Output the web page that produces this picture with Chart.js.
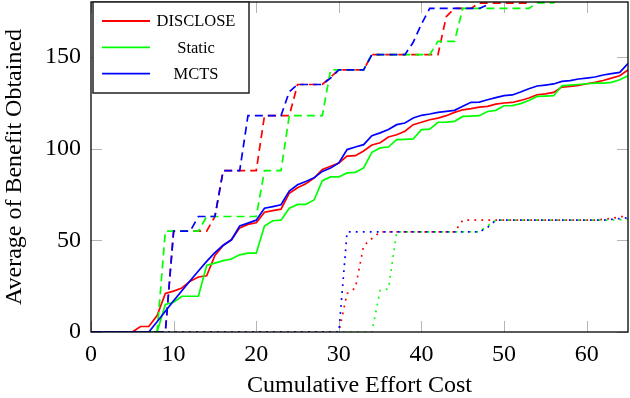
<!DOCTYPE html>
<html>
<head>
<meta charset="utf-8">
<title>Average of Benefit Obtained</title>
<script src="https://cdn.jsdelivr.net/npm/chart.js@4.4.1/dist/chart.umd.min.js"></script>
<style>
	body { margin: 0; background: #fff; }
	#wrap { width: 630px; height: 398px; }
</style>
</head>
<body>
<div id="wrap"><canvas id="myChart" width="630" height="398"></canvas></div>
<script>
// effort steps used by the solid (mean) curves
var effort = [0,1,2,3,4,5,6,7,8,9, 10,11,12,13,14,15,16,17,18,19, 20,21,22,23,24,25,26,27,28,29,
	30,31,32,33,34,35,36,37,38,39, 40,41,42,43,44,45,46,47,48,49, 50,51,52,53,54,55,56,57,58,59, 60,61,62,63,64,65];

var seriesNames = ['DISCLOSE', 'Static', 'MCTS'];
var seriesColors = ['#ff0000', '#00ff00', '#0000ff'];

// solid lines
var discloseMean = [0,0,0,0,0,0,3,3,9,21, 22.3,24,27.7,30,30.7,41.8,47.2,50.3,56.8,58.7,
	59.6,65.3,66.2,67,75.7,78.7,80.8,84,88.6,90.4, 92.2,95.9,96.2,98.7,102,103.2,106.4,107.6,109.5,113.1,
	114.4,115.8,116.7,118,119.8,121.2,121.8,122.7,123.1,124.3, 124.9,125.2,126.3,127.6,129.4,129.9,130.7,133.6,134,134.5,
	135.4,136.2,137.2,138.5,139.8,143];
var staticMean = [0,0,0,0,0,0,0,0,0,15, 16.2,19.5,19.5,19.5,36.3,37.6,38.9,39.8,42.1,43,
	43,57.8,60.7,61,67.5,69.6,69.6,72,82.5,84.6, 84.6,86.8,87.1,89.5,98,100.4,100.9,104.9,105.1,105.3,
	110.4,110.7,114.4,114.5,114.9,117.6,117.8,118,120.3,120.9, 123.4,123.5,124.6,126.3,128.5,128.7,128.9,134.3,134.7,135,
	135.4,135.8,135.8,136.2,137.6,139.8];
var mctsMean = [0,0,0,0,0,0,0,0,5.6,11.3, 17,22.5,28,33.3,38.5,43.3,47.3,50.3,57.8,59.4,
	61,67.5,68.4,69.4,76.9,80.3,82.1,84.1,87.6,89.5, 92.2,99.5,100.9,102.2,107.1,108.6,110.4,113.1,114,116.7,
	118.2,118.9,119.8,120.3,120.9,123.1,125.3,125.4,126.7,127.8, 128.9,129.3,130.9,132.7,134.2,134.7,135.3,136.7,137.1,138,
	138.5,139.1,140.2,140.9,141.6,146.4];

// dashed lines (corners of the steps)
var discloseUpperX = [0, 9, 10, 14, 15, 16, 20, 21, 24, 25, 28, 29, 30, 33, 34, 42, 43, 44, 46, 47, 53, 54, 65];
var discloseUpperY = [0, 0, 55, 55, 63, 88, 88, 118, 118, 135, 135, 139, 143, 143, 151.3, 151.3, 172, 176.5, 176.5, 179.4, 179.4, 186, 186];
var staticUpperX = [0, 8, 9, 13, 14, 20, 21, 23, 24, 28, 29, 33, 34, 41, 42, 44, 45, 53, 54, 56, 57, 65];
var staticUpperY = [0, 0, 55, 55, 63, 63, 88, 88, 118, 118, 143, 143, 151.3, 151.3, 158.5, 158.5, 176.5, 176.5, 179.5, 179.5, 186, 186];
var mctsUpperX = [0, 9, 10, 12, 13, 15, 16, 18, 19, 23, 24, 25, 28, 29, 30, 33, 34, 38, 39, 40, 41, 47, 48, 49, 65];
var mctsUpperY = [0, 0, 55, 55, 63, 63, 88, 88, 118, 118, 131, 135, 135, 138.5, 143, 143, 151.3, 151.3, 158, 168, 176.5, 176.5, 178.5, 186, 186];

// dotted lines
var discloseLowerX = [0, 30, 31, 32, 33, 34, 35, 44, 45, 61, 63, 65];
var discloseLowerY = [0, 0, 21, 24, 47, 51, 54.6, 54.6, 61, 61, 62, 63.5];
var staticLowerX = [0, 34, 35, 36, 37, 47, 49, 63, 65];
var staticLowerY = [0, 0, 22.7, 23.5, 54.6, 54.6, 61, 61, 61.5];
var mctsLowerX = [0, 30, 31, 47, 48, 49, 62, 65];
var mctsLowerY = [0, 0, 54.6, 54.6, 57, 61, 61, 62.3];

var xTicks = [0, 10, 20, 30, 40, 50, 60];
var yTicks = [0, 50, 100, 150];

var serif = "'Liberation Serif', 'Times New Roman', serif";

function points(xs, ys)
{
	var out = [];
	for (var i = 0; i < xs.length; i++)
	{
		out.push({x: xs[i], y: ys[i]});
	}
	return out;
}

function makeLine(xs, ys, k, style)
{
	var dash = [];
	if (style == 'dashed') dash = [8, 5];
	if (style == 'dotted') dash = [1.8, 5.2];
	return {
		label: seriesNames[k] + ' ' + style,
		data: points(xs, ys),
		borderColor: seriesColors[k],
		backgroundColor: seriesColors[k],
		borderDash: dash,
		borderWidth: 1.7,
		fill: false,
		order: 2 - k
	};
}

var decor = {
	id: 'decor',
	beforeDatasetsDraw: function (chart)
	{
		var ctx = chart.ctx;
		var a = chart.chartArea;
		var sx = chart.scales.x, sy = chart.scales.y;
		ctx.save();
		ctx.strokeStyle = '#b4b4b4';
		ctx.lineWidth = 1;
		ctx.beginPath();
		xTicks.forEach(function (v)
		{
			var px = Math.round(sx.getPixelForValue(v)) + 0.5;
			ctx.moveTo(px, a.bottom); ctx.lineTo(px, a.bottom - 11);
			ctx.moveTo(px, a.top); ctx.lineTo(px, a.top + 11);
		});
		yTicks.forEach(function (v)
		{
			var py = Math.round(sy.getPixelForValue(v)) + 0.5;
			ctx.moveTo(a.left, py); ctx.lineTo(a.left + 11, py);
			ctx.moveTo(a.right, py); ctx.lineTo(a.right - 11, py);
		});
		ctx.stroke();
		ctx.restore();
	},
	afterDatasetsDraw: function (chart)
	{
		var ctx = chart.ctx;
		var a = chart.chartArea;
		ctx.save();
		ctx.strokeStyle = '#000';
		ctx.lineWidth = 1.3;
		ctx.strokeRect(a.left, a.top, a.right - a.left, a.bottom - a.top);

		// legend box
		var bx = a.left + 2, by = a.top, bw = 156, bh = 91;
		ctx.fillStyle = '#fff';
		ctx.fillRect(bx, by, bw, bh);
		ctx.strokeStyle = '#222';
		ctx.lineWidth = 1.5;
		ctx.strokeRect(bx, by, bw, bh);
		ctx.font = '16.5px ' + serif;
		ctx.textAlign = 'center';
		ctx.textBaseline = 'middle';
		for (var k = 0; k < seriesNames.length; k++)
		{
			var ly = by + 19 + k * 26.3;
			ctx.strokeStyle = seriesColors[k];
			ctx.lineWidth = 1.8;
			ctx.beginPath();
			ctx.moveTo(bx + 9, ly);
			ctx.lineTo(bx + 57, ly);
			ctx.stroke();
			ctx.fillStyle = '#000';
			ctx.fillText(seriesNames[k], bx + 103, ly + 1);
		}
		ctx.restore();
	}
};

var ctx = document.getElementById('myChart');
var myChart = new Chart(ctx, {
	type: 'line',
	data: {
		datasets: [
			makeLine(effort, discloseMean, 0, 'solid'),
			makeLine(effort, staticMean, 1, 'solid'),
			makeLine(effort, mctsMean, 2, 'solid'),
			makeLine(discloseUpperX, discloseUpperY, 0, 'dashed'),
			makeLine(staticUpperX, staticUpperY, 1, 'dashed'),
			makeLine(mctsUpperX, mctsUpperY, 2, 'dashed'),
			makeLine(discloseLowerX, discloseLowerY, 0, 'dotted'),
			makeLine(staticLowerX, staticLowerY, 1, 'dotted'),
			makeLine(mctsLowerX, mctsLowerY, 2, 'dotted')
		]
	},
	options: {
		responsive: false,
		animation: false,
		devicePixelRatio: 1,
		layout: {padding: {top: 2, right: 2, left: 0, bottom: 0}},
		elements: {point: {radius: 0}, line: {tension: 0}},
		plugins: {legend: {display: false}, tooltip: {enabled: false}},
		scales: {
			x: {
				type: 'linear', min: 0, max: 65,
				grid: {display: false, drawTicks: false},
				border: {display: false},
				ticks: {stepSize: 10, padding: 8, maxRotation: 0, color: '#000', font: {family: serif, size: 24}},
				title: {display: true, text: 'Cumulative Effort Cost', color: '#000', padding: {top: 0, bottom: -2}, font: {family: serif, size: 24}},
				afterBuildTicks: function (s)
				{
					s.ticks = xTicks.map(function (v) { return {value: v}; });
				},
				afterFit: function (s)
				{
					s.height = 66;
					s.paddingLeft = 0;
					s.paddingRight = 0;
				}
			},
			y: {
				type: 'linear', min: 0, max: 180,
				grid: {display: false, drawTicks: false},
				border: {display: false},
				ticks: {stepSize: 50, padding: 10, color: '#000', font: {family: serif, size: 24}},
				title: {display: true, text: 'Average of Benefit Obtained', color: '#000', padding: 0, font: {family: serif, size: 24}},
				afterBuildTicks: function (s)
				{
					s.ticks = yTicks.map(function (v) { return {value: v}; });
				},
				afterFit: function (s)
				{
					s.width = 91;
					s.paddingTop = 0;
					s.paddingBottom = 0;
				}
			}
		}
	},
	plugins: [decor]
});
</script>
</body>
</html>
